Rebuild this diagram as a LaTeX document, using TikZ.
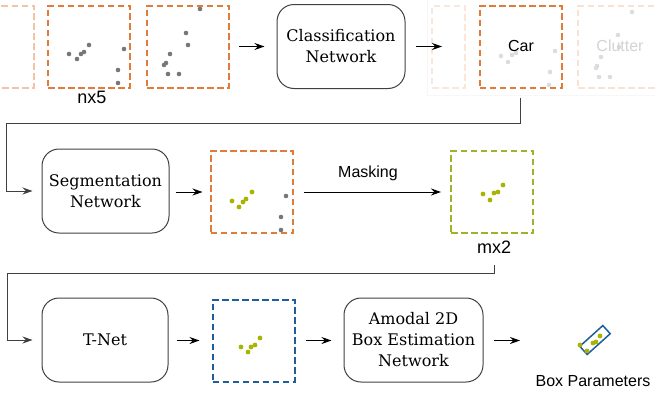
\documentclass[tikz,border=0pt]{standalone}
\usepackage{fontspec}
\setmainfont{DejaVu Serif}
\newfontfamily\labelfont{Liberation Sans}
\usetikzlibrary{arrows.meta}
\definecolor{orng}{HTML}{E07B39}
\definecolor{olive}{HTML}{9FB22A}
\definecolor{ptgreen}{HTML}{A8B400}
\definecolor{navy}{HTML}{1F5E9C}
\definecolor{ptgray}{HTML}{777777}
\definecolor{ptlight}{HTML}{DCDCDC}
\definecolor{edge}{HTML}{404040}

\begin{document}
\begin{tikzpicture}[x=1pt,y=-1pt,
  net/.style={draw=edge, line width=1pt, rounded corners=17pt,
    minimum height=84pt, align=center, inner sep=0pt,
    font=\fontsize{16}{21}\selectfont},
  cloud/.style={draw=#1, line width=2pt, dash pattern=on 6.5pt off 3.5pt,
    minimum width=82pt, minimum height=82pt, inner sep=0pt},
  lbl/.style={font=\labelfont\fontsize{16}{19}\selectfont, inner sep=0pt},
  dimlbl/.style={font=\labelfont\fontsize{18}{21}\selectfont, inner sep=0pt},
  arr/.style={draw=black, line width=1pt, -{Stealth[length=10pt,width=7pt]}},
  wire/.style={draw=edge, line width=1pt, -{Stealth[length=10pt,width=7pt]}}
]
\useasboundingbox (0,0) rectangle (655,394);
\begin{scope}
\clip (0,0) rectangle (655,394);

% faint frame behind the class scores
\draw[gray!6, line width=0.6pt] (427,-2) rectangle (660,95);

% ---------- row 1: frustum point sets, classifier, class scores ----------
\node[cloud=orng!45] (b1) at (-7,46.5) {};
\node[cloud=orng] (b2) at (89,46.5) {};
\node[cloud=orng] (b3) at (188,46.5) {};
\foreach \p in {(69,54),(77,59),(81,54),(84,52),(89,45),(124,49),(118,70),(118,83),
                (200,9),(186,33),(188,45),(170,54),(166,63),(164,65),(168,74),(179,74)}
  \fill[ptgray] \p circle (2.3pt);
\node[dimlbl] (nx) at (92,97.5) {nx5};

\node[net, minimum width=128pt] (cls) at (341,46.5) {Classification\\Network};

\node[cloud=orng!18, minimum width=33pt] (f1) at (448.5,46.5) {};
\node[cloud=orng] (car) at (520.5,46.5) {};
\node[cloud=orng!22] (clut) at (619,46.5) {};
\foreach \p in {(501,56),(508,62),(512,55),(516,53),(555,51),(550,72),(549,85),
                (632,12),(618,35),(619,47),(601,57),(597,66),(596,68),(599,77),(610,77)}
  \fill[ptlight] \p circle (2.3pt);
\node[lbl] (carl) at (521,45.5) {Car};
\node[lbl, text=ptlight!90!gray] (clutl) at (620,45.5) {Clutter};

\coordinate (t1) at (442,46.5);
\draw[arr, shorten <=9pt, shorten >=12pt] (b3.east) -- (cls.west);
\draw[arr, shorten <=10pt] (cls.east) -- (t1);

% ---------- row 2: segmentation and masking ----------
\node[net, minimum width=127pt] (seg) at (105.5,191) {Segmentation\\Network};
\node[cloud=orng] (ob) at (251.5,192) {};
\foreach \p in {(286,196),(281,217),(281,230)}
  \fill[ptgray] \p circle (2.3pt);
\foreach \p in {(232,201),(239,207),(243,202),(246,199),(252,192)}
  \fill[ptgreen] \p circle (2.4pt);

\node[cloud=olive] (gb) at (492,192) {};
\foreach \p in {(483,194),(490,200),(494,193),(498,192),(503,185)}
  \fill[ptgreen] \p circle (2.4pt);
\node[dimlbl] (mx) at (494,247.5) {mx2};

\draw[wire, shorten >=9pt] ([yshift=-9pt]car.south) |- (6,123) |- (seg.west);
\draw[arr, shorten <=6pt, shorten >=7pt] (seg.east |- ob.west) -- (ob.west);
\draw[arr, shorten <=10pt, shorten >=9pt] (ob.east) -- (gb.west);
\node[lbl] (mask) at (368,173) {Masking};

% ---------- row 3: T-Net and amodal box estimation ----------
\node[net, minimum width=126pt] (tn) at (105,340) {T-Net};
\node[cloud=navy] (bb) at (253.5,340.5) {};
\foreach \p in {(241,347),(248,352),(251,347),(255,345),(260,338)}
  \fill[ptgreen] \p circle (2.4pt);
\node[net, minimum width=139pt] (am) at (413.5,340) {Amodal 2D\\Box Estimation\\Network};

\node[draw=navy, line width=1.5pt, minimum width=31pt, minimum height=11pt,
      inner sep=0pt, rotate=42] (bp) at (595,340) {};
\foreach \p in {(580,345),(587,351),(593,343),(596,342),(600,336)}
  \fill[ptgreen] \p circle (2.4pt);
\node[lbl] (bpl) at (593,381) {Box Parameters};

\coordinate (t2) at (520,340.5);
\draw[wire, shorten >=9pt] ([yshift=-11pt]mx.south) |- (7,273) |- (tn.west);
\draw[arr, shorten <=8pt, shorten >=12pt] (tn.east |- bb.west) -- (bb.west);
\draw[arr, shorten <=10pt, shorten >=12pt] (bb.east) -- (am.west |- bb.east);
\draw[arr, shorten <=10pt] (am.east |- t2) -- (t2);
\end{scope}
\end{tikzpicture}
\end{document}
